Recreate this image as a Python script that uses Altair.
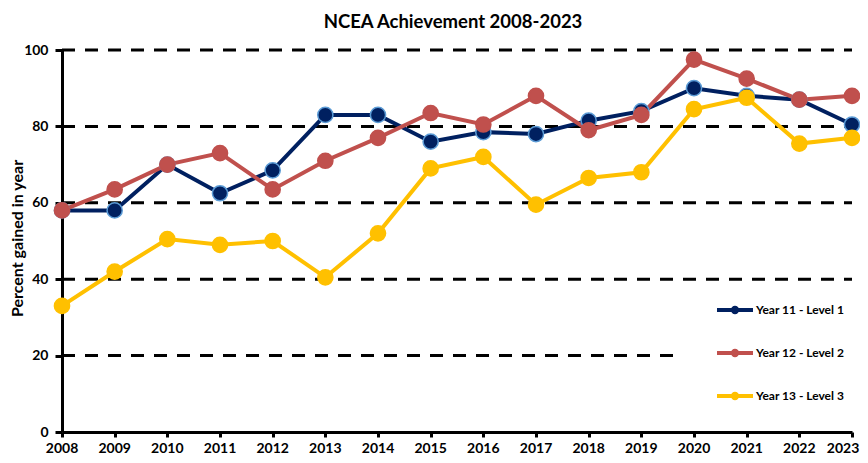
import altair as alt
import pandas as pd

# ---- data ----
years = list(range(2008, 2024))
series_names = ["Year 11 - Level 1", "Year 12 - Level 2", "Year 13 - Level 3"]
year11 = [58, 58, 70, 62.5, 68.5, 83, 83, 76, 78.5, 78, 81.5, 84, 90, 88, 87, 80.5]
year12 = [58, 63.5, 70, 73, 63.5, 71, 77, 83.5, 80.5, 88, 79, 83, 97.5, 92.5, 87, 88]
year13 = [33, 42, 50.5, 49, 50, 40.5, 52, 69, 72, 59.5, 66.5, 68, 84.5, 87.5, 75.5, 77]
y_ticks = [0, 20, 40, 60, 80, 100]
grid_values = [20, 40, 60, 80, 100]
grid_end_year = [2019.77, 2023, 2023, 2023, 2023]

line_colors = ["#002060", "#C0504D", "#FFC000"]
marker_outline = ["#5B9BD5", "#C0504D", "#FFC000"]

rows = []
for name, vals in zip(series_names, [year11, year12, year13]):
    for yr, v in zip(years, vals):
        rows.append({"year": yr, "value": v, "series": name})
df = pd.DataFrame(rows)

grid_df = pd.DataFrame({"y": grid_values, "x_start": [years[0]] * len(grid_values), "x_end": grid_end_year})
label_df = pd.DataFrame({"year": years, "label": [str(y) for y in years]})

FONT = "Lato"

x_scale = alt.Scale(domain=[years[0], years[-1]], nice=False, zero=False)
y_scale = alt.Scale(domain=[0, 100], nice=False)

x_axis = alt.Axis(values=years, format="d", title=None, labels=False, tickSize=5, tickWidth=3,
                  tickColor="black", domainColor="black", domainWidth=3, grid=False)
y_axis = alt.Axis(values=y_ticks, title="Percent gained in year", titleFont=FONT, titleFontSize=16,
                  titleFontWeight="bold", titleColor="black", titleX=-37, titleY=188,
                  labelFont=FONT, labelFontSize=14, labelFontWeight="bold", labelColor="black",
                  tickSize=7, tickWidth=3, tickColor="black", domainColor="black", domainWidth=3,
                  labelPadding=7, grid=False)

grid = alt.Chart(grid_df).mark_rule(color="black", strokeWidth=3, strokeDash=[13, 10]).encode(
    x=alt.X("x_start:Q", scale=x_scale, axis=x_axis),
    x2="x_end:Q",
    y=alt.Y("y:Q", scale=y_scale, axis=y_axis),
)

legend_symbol = "M-1,0L1,0M-0.12,0A0.12,0.12,0,1,0,0.12,0A0.12,0.12,0,1,0,-0.12,0"

lines = alt.Chart(df).mark_line(strokeWidth=4).encode(
    x=alt.X("year:Q", scale=x_scale, axis=x_axis),
    y=alt.Y("value:Q", scale=y_scale, axis=y_axis),
    color=alt.Color("series:N", scale=alt.Scale(domain=series_names, range=line_colors),
                    legend=alt.Legend(title=None, orient="none", legendX=653, legendY=240,
                                      symbolType=legend_symbol, symbolSize=1296,
                                      symbolStrokeWidth=4, labelFont=FONT, labelFontSize=12,
                                      labelFontWeight="bold", labelColor="black", labelOffset=1,
                                      rowPadding=12, padding=0)),
)

points = alt.Chart(df).mark_circle(size=230, opacity=1, strokeWidth=1.5).encode(
    x=alt.X("year:Q", scale=x_scale, axis=x_axis),
    y=alt.Y("value:Q", scale=y_scale, axis=y_axis),
    fill=alt.Fill("series:N", scale=alt.Scale(domain=series_names, range=line_colors), legend=None),
    stroke=alt.Stroke("series:N", scale=alt.Scale(domain=series_names, range=marker_outline), legend=None),
)

# x-axis year labels (last one nudged inward so it is not clipped by the page edge)
x_labels = alt.Chart(label_df).mark_text(
    font=FONT, fontSize=14, fontWeight="bold", color="black", baseline="top", align="center",
    dy=10, dx=alt.expr(f"datum.year == {years[-1]} ? -9 : 0"),
).encode(
    x=alt.X("year:Q", scale=x_scale, axis=x_axis),
    y=alt.datum(0, scale=y_scale),
    text="label:N",
)

chart = alt.layer(grid, lines, points, x_labels).properties(
    width=790,
    height=382,
    title=alt.TitleParams("NCEA Achievement 2008-2023", font=FONT, fontSize=18.5,
                          fontWeight="bold", color="black", anchor="middle", offset=12, dx=-4),
    autosize=alt.AutoSizeParams(type="none"),
    padding={"left": 54, "top": 42, "right": 8, "bottom": 23},
    background="white",
).configure_view(stroke=None)

chart.save("out.html", embed_options={"renderer": "svg", "actions": False})
